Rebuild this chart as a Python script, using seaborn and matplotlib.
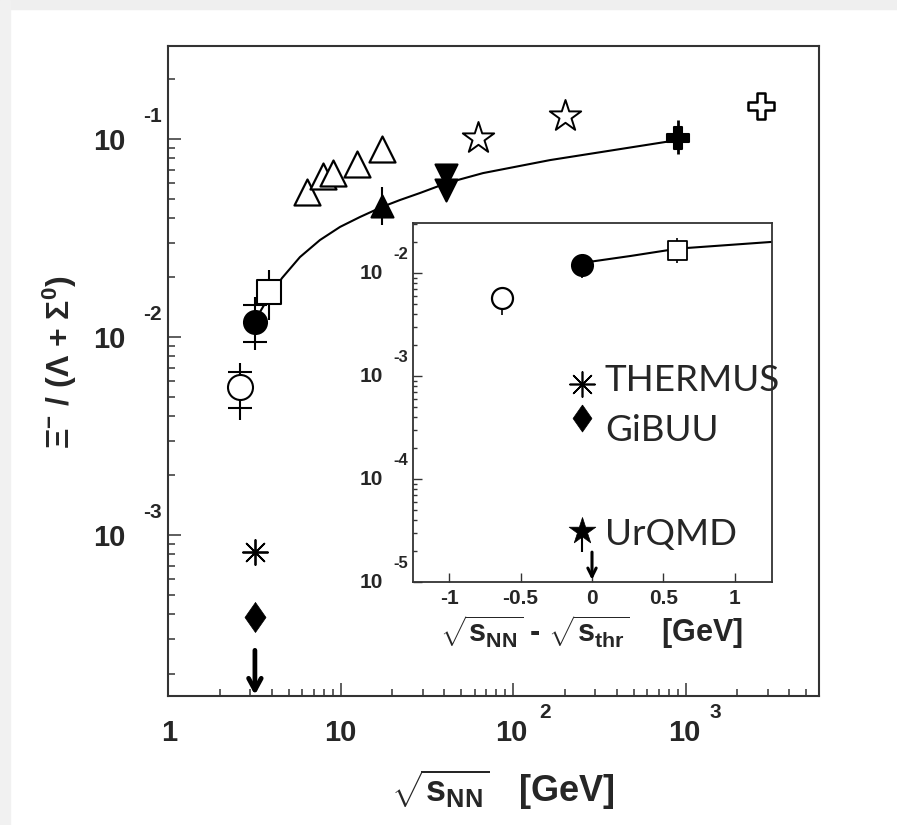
import matplotlib
matplotlib.use("Agg")
import matplotlib.pyplot as plt
import matplotlib.ticker as mticker
from matplotlib.patches import Rectangle
import numpy as np
import pandas as pd
import seaborn as sns

sns.set_theme(style="white")
plt.rcParams["font.family"] = ["Liberation Sans", "DejaVu Sans"]
plt.rcParams["font.weight"] = "bold"
plt.rcParams["mathtext.fontset"] = "custom"
plt.rcParams["mathtext.rm"] = "Liberation Sans:bold"
plt.rcParams["mathtext.bf"] = "Liberation Sans:bold"
plt.rcParams["mathtext.it"] = "Liberation Sans:bold"

# ---------------- main panel: Xi- / (Lambda + Sigma0) vs sqrt(s_NN) ----------------
open_circle_x = [2.61]
open_circle_y = [5.6e-3]
open_circle_stat = [3.8e-3, 7.4e-3]
open_circle_sys = [4.4e-3, 6.7e-3]

full_circle_x = [3.19]
full_circle_y = [1.19e-2]
full_circle_stat = [8.6e-3, 1.59e-2]
full_circle_sys = [9.4e-3, 1.45e-2]

open_square_x = [3.85]
open_square_y = [1.69e-2]
open_square_err = [1.22e-2, 2.18e-2]

open_tri_x = [6.4, 7.9, 9.05, 12.5, 17.4]
open_tri_y = [0.054, 0.065, 0.0673, 0.0748, 0.089]

full_tri_x = [17.3]
full_tri_y = [0.046]
full_tri_err = [0.0368, 0.057]

down_tri_x = [41.0, 41.0]
down_tri_y = [0.0658, 0.0552]

open_star_x = [62.7, 200.0]
open_star_y = [0.101, 0.13]

full_plus_x = [905.0]
full_plus_y = [0.101]
full_plus_err = [0.084, 0.125]

open_plus_x = [2740.0]
open_plus_y = [0.147]

thermus_x = [3.19]
thermus_y = [8.2e-4]
gibuu_x = [3.19]
gibuu_y = [3.85e-4]
limit_x = 3.19
limit_y = [2.62e-4, 1.56e-4]

fit_x = [3.28, 3.75, 4.58, 5.82, 7.6, 9.94, 12.97, 17.4, 22.1, 28.9, 41.4, 67.0, 164.0, 905.0]
fit_y = [0.01262, 0.01538, 0.01986, 0.02535, 0.0309, 0.0360, 0.0404, 0.0454,
         0.0492, 0.0534, 0.0600, 0.0673, 0.0783, 0.0989]

# ---------------- inset: vs sqrt(s_NN) - sqrt(s_thr) ----------------
in_open_circle = ([-0.63], [5.7e-3])
in_open_circle_err = [3.9e-3, 7.3e-3]
in_full_circle = ([-0.07], [1.2e-2])
in_full_circle_err = [8.9e-3, 1.4e-2]
in_open_square = ([0.594], [1.67e-2])
in_open_square_err = [1.25e-2, 2.19e-2]
in_thermus = ([-0.07], [8.4e-4])
in_gibuu = ([-0.07], [3.9e-4])
in_urqmd = ([-0.07], [3.1e-5])
in_urqmd_err = [1.95e-5, 3.1e-5]
in_limit_x = 0.0
in_limit_y = [1.95e-5, 1.05e-5]
in_fit_x = [-0.07, 0.27, 0.6, 1.26]
in_fit_y = [0.0125, 0.0146, 0.0172, 0.0200]

model_labels = ["THERMUS", "GiBUU", "UrQMD"]
model_label_y = [7.15e-4, 2.34e-4, 2.29e-5]

main_ticks_x = [1, 10, 100, 1000]
main_ticks_y = [1e-3, 1e-2, 1e-1]
inset_ticks_y = [1e-5, 1e-4, 1e-3, 1e-2]
inset_ticks_x = [-1, -0.5, 0, 0.5, 1]

diamond = [(0, 1), (0.7, 0), (0, -1), (-0.7, 0), (0, 1)]

W, H = 897, 825
fig = plt.figure(figsize=(W / 100, H / 100), dpi=100)
fig.patch.set_facecolor("white")
fig.patches.append(Rectangle((0, 1 - 9 / H), 1, 9 / H, transform=fig.transFigure,
                             color="#efefef", zorder=0))
fig.patches.append(Rectangle((0, 0), 10 / W, 1, transform=fig.transFigure,
                             color="#f1f1f1", zorder=0))

ax = fig.add_axes([168 / W, 1 - 696 / H, (819 - 168) / W, (696 - 46) / H])
ax_in = fig.add_axes([413 / W, 1 - 582 / H, (772 - 413) / W, (582 - 223) / H])


def pts(px):
    return px / 100 * 72


def scatter(a, x, y, marker, size_px, filled, lw=1.5, z=4):
    sns.scatterplot(x=x, y=y, ax=a, marker=marker, s=pts(size_px) ** 2,
                    color="black" if filled else "white", edgecolor="black",
                    linewidth=lw, zorder=z, legend=False)


def vbar(a, x, lo_hi, lw=1.5):
    a.plot([x, x], lo_hi, color="black", lw=lw, zorder=3, solid_capstyle="butt")


def hcap(a, x, y, half_px, lw=1.5):
    a.plot([x], [y], marker="_", ms=pts(2 * half_px), mew=lw, color="black", zorder=3)


# ---- main panel ----
sns.lineplot(x=fit_x, y=fit_y, ax=ax, color="black", lw=1.5, sort=False,
             estimator=None, zorder=2)

vbar(ax, open_circle_x[0], open_circle_stat)
for v in open_circle_sys:
    hcap(ax, open_circle_x[0], v, 12)
scatter(ax, open_circle_x, open_circle_y, "o", 25, False)

vbar(ax, full_circle_x[0], full_circle_stat)
for v in full_circle_sys:
    hcap(ax, full_circle_x[0], v, 12)
scatter(ax, full_circle_x, full_circle_y, "o", 23, True)

vbar(ax, open_square_x[0], open_square_err)
scatter(ax, open_square_x, open_square_y, "s", 23, False)

scatter(ax, open_tri_x, open_tri_y, "^", 26, False, lw=1.6)

vbar(ax, full_tri_x[0], full_tri_err)
scatter(ax, full_tri_x, full_tri_y, "^", 22, True)

scatter(ax, down_tri_x, down_tri_y, "v", 22, True)

scatter(ax, open_star_x, open_star_y, "*", 33, False, lw=1.4)

vbar(ax, full_plus_x[0], full_plus_err, lw=2)
scatter(ax, full_plus_x, full_plus_y, "P", 22, True)

scatter(ax, open_plus_x, open_plus_y, "P", 26, False, lw=1.8)

sns.scatterplot(x=thermus_x, y=thermus_y, ax=ax, marker=(8, 2, 0), s=pts(25) ** 2,
                color="black", linewidth=1.3, legend=False, zorder=4)
scatter(ax, gibuu_x, gibuu_y, diamond, 30, True, lw=0.5)

ax.annotate("", xy=(limit_x, limit_y[1]), xytext=(limit_x, limit_y[0]),
            arrowprops=dict(arrowstyle="->,head_length=0.7,head_width=0.38",
                            color="black", lw=3.4, shrinkA=0, shrinkB=0))

ax.set_xscale("log")
ax.set_yscale("log")
ax.set_xlim(1, 5940)
ax.set_ylim(1.54e-4, 0.295)

# ---- inset ----
sns.lineplot(x=in_fit_x, y=in_fit_y, ax=ax_in, color="black", lw=1.5, sort=False,
             estimator=None, zorder=2)
vbar(ax_in, in_open_circle[0][0], in_open_circle_err, lw=1.2)
scatter(ax_in, *in_open_circle, "o", 21, False, lw=1.6)
vbar(ax_in, in_full_circle[0][0], in_full_circle_err, lw=1.2)
scatter(ax_in, *in_full_circle, "o", 21, True)
vbar(ax_in, in_open_square[0][0], in_open_square_err, lw=1.2)
scatter(ax_in, *in_open_square, "s", 19, False, lw=1.3)
sns.scatterplot(x=in_thermus[0], y=in_thermus[1], ax=ax_in, marker=(8, 2, 0),
                s=pts(25) ** 2, color="black", linewidth=1.2, legend=False, zorder=4)
scatter(ax_in, *in_gibuu, diamond, 27, True, lw=0.5)
vbar(ax_in, in_urqmd[0][0], in_urqmd_err, lw=1.5)
scatter(ax_in, *in_urqmd, "*", 28, True, lw=0.5)
ax_in.annotate("", xy=(in_limit_x, in_limit_y[1]), xytext=(in_limit_x, in_limit_y[0]),
               arrowprops=dict(arrowstyle="->,head_length=0.5,head_width=0.25",
                               color="black", lw=2.2, shrinkA=0, shrinkB=0))
for name, yv in zip(model_labels, model_label_y):
    ax_in.text(0.09, yv, name, fontsize=26.5, fontweight="normal",
               family=["Lato", "DejaVu Sans"], ha="left", va="baseline", zorder=6)

ax_in.set_yscale("log")
ax_in.set_xlim(-1.252, 1.259)
ax_in.set_ylim(1e-5, 0.0305)

# ---- frames and ticks ----
for a, lw in ((ax, 1.5), (ax_in, 1.3)):
    a.set_facecolor("white")
    for sp in a.spines.values():
        sp.set_visible(True)
        sp.set_color("#333333")
        sp.set_linewidth(lw)
    a.set_xlabel("")
    a.set_ylabel("")
    a.set_xticklabels([])
    a.set_yticklabels([])

ax.xaxis.set_major_locator(mticker.FixedLocator(main_ticks_x))
ax.xaxis.set_minor_locator(mticker.LogLocator(base=10, subs=np.arange(2, 10)))
ax.yaxis.set_major_locator(mticker.FixedLocator(main_ticks_y))
ax.yaxis.set_minor_locator(mticker.LogLocator(base=10, subs=np.arange(2, 10)))
ax.xaxis.set_minor_formatter(mticker.NullFormatter())
ax.yaxis.set_minor_formatter(mticker.NullFormatter())
ax.tick_params(which="both", direction="in", bottom=True, left=True, top=False,
               right=False, color="#333333", width=1.1, labelbottom=False, labelleft=False)
ax.tick_params(which="major", length=pts(13))
ax.tick_params(which="minor", length=pts(7))

ax_in.xaxis.set_major_locator(mticker.FixedLocator(inset_ticks_x))
ax_in.xaxis.set_minor_locator(mticker.NullLocator())
ax_in.yaxis.set_major_locator(mticker.FixedLocator(inset_ticks_y))
ax_in.yaxis.set_minor_locator(mticker.LogLocator(base=10, subs=np.arange(2, 10)))
ax_in.yaxis.set_minor_formatter(mticker.NullFormatter())
ax_in.tick_params(which="both", direction="in", bottom=True, left=True, top=False,
                  right=False, color="#333333", width=1.0, labelbottom=False, labelleft=False)
ax_in.tick_params(which="major", length=pts(9))
ax_in.tick_params(which="minor", length=pts(4))


# ---- ROOT-style power-of-ten tick labels ----
def power_label(a, axis, val, exp, base_off, exp_off, fs, efs):
    coords = ("data", "axes fraction") if axis == "x" else ("axes fraction", "data")
    xy = (val, 0) if axis == "x" else (0, val)
    a.annotate("10" if exp is not None else "1", xy=xy, xycoords=coords, xytext=base_off,
               textcoords="offset pixels", ha="center", va="center", fontsize=fs,
               fontweight="bold", annotation_clip=False)
    if exp:
        a.annotate(exp, xy=xy, xycoords=coords, xytext=exp_off, textcoords="offset pixels",
                   ha="center", va="center", fontsize=efs, fontweight="bold",
                   annotation_clip=False)


power_label(ax, "x", 1, None, (1, -37), None, 21, 15)
power_label(ax, "x", 10, "", (0, -37), (0, 0), 21, 15)
power_label(ax, "x", 100, "2", (-2, -37), (32, -16), 21, 15)
power_label(ax, "x", 1000, "3", (-1, -37), (30, -16), 21, 15)
for v, e in zip(main_ticks_y, ["-3", "-2", "-1"]):
    power_label(ax, "y", v, e, (-59, -3), (-16, 23), 21, 15)

for v, e in zip(inset_ticks_y, ["-5", "-4", "-3", "-2"]):
    power_label(ax_in, "y", v, e, (-42, -1), (-12, 18), 15, 12)
for v in inset_ticks_x:
    ax_in.annotate(f"{v:g}", xy=(v, 0), xycoords=("data", "axes fraction"),
                   xytext=(0, -16), textcoords="offset pixels", ha="center", va="center",
                   fontsize=15, fontweight="bold", annotation_clip=False)

# ---- axis titles ----
fig.text(503 / W, 1 - 790 / H, r"$\sqrt{\mathbf{s_{NN}}}$   [GeV]", fontsize=26,
         fontweight="bold", ha="center", va="center")
fig.text(591 / W, 1 - 632 / H,
         r"$\sqrt{\mathbf{s_{NN}}}$ - $\sqrt{\mathbf{s_{thr}}}$    [GeV]",
         fontsize=22, fontweight="bold", ha="center", va="center")
fig.text(60 / W, 1 - 362 / H, r"$\Xi^{-}$ / ($\Lambda$ + $\Sigma^{0}$)", fontsize=23,
         fontweight="bold", rotation=90, ha="center", va="center")

fig.savefig("out.png", dpi=100)
